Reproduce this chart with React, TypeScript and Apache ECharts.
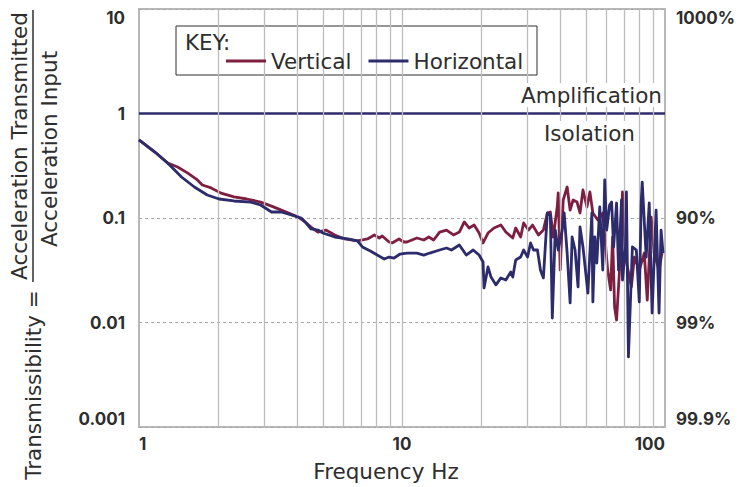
import React, { useEffect, useRef } from 'react';
import * as echarts from 'echarts';

// Vertical (maroon) transmissibility curve
const FREQ_V = [1.0, 1.149, 1.285, 1.402, 1.528, 1.652, 1.741, 1.881, 2.051, 2.296, 2.57, 2.9, 3.19, 3.478, 4.031, 4.281, 4.51, 4.79, 5.135, 5.55, 6.05, 6.77, 7.07, 7.39, 7.85, 8.19, 8.41, 8.93, 9.17, 9.74, 10.17, 10.44, 11.39, 12.1, 12.64, 13.19, 13.9, 14.76, 15.69, 16.52, 17.25, 18.01, 18.81, 19.64, 20.33, 21.23, 22.37, 23.77, 24.81, 26.37, 27.06, 28.26, 29.0, 30.28, 31.34, 33.03, 34.48, 35.7, 36.64, 37.6, 38.92, 39.26, 39.95, 41.01, 42.45, 43.57, 44.72, 46.29, 47.51, 48.76, 50.47, 51.8, 53.17, 55.52, 57.98, 60.53, 62.12, 63.21, 64.31, 65.43, 67.15, 68.91, 70.73, 74.5, 76.45, 79.83, 83.4, 85.6, 88.6, 90.9, 94.9, 97.4];
const VAL_V = [0.558, 0.428, 0.336, 0.308, 0.27, 0.236, 0.207, 0.194, 0.173, 0.159, 0.152, 0.142, 0.13, 0.119, 0.102, 0.0916, 0.082, 0.0734, 0.0767, 0.0688, 0.063, 0.0603, 0.0616, 0.063, 0.0688, 0.0644, 0.0673, 0.0589, 0.0577, 0.063, 0.0589, 0.0589, 0.0644, 0.0616, 0.0658, 0.0616, 0.0734, 0.0767, 0.0688, 0.0734, 0.0916, 0.0802, 0.0857, 0.0718, 0.0577, 0.0718, 0.0802, 0.0857, 0.0734, 0.0644, 0.0802, 0.0658, 0.0896, 0.0767, 0.0857, 0.0688, 0.0767, 0.1117, 0.1141, 0.0658, 0.1274, 0.1735, 0.0318, 0.1487, 0.198, 0.119, 0.1487, 0.142, 0.1117, 0.1853, 0.1274, 0.1774, 0.1117, 0.0957, 0.1117, 0.0318, 0.0205, 0.0658, 0.01407, 0.01057, 0.0318, 0.1774, 0.0423, 0.0219, 0.0423, 0.0318, 0.0462, 0.0164, 0.102, 0.0462, 0.0318, 0.0462];

// Horizontal (navy) transmissibility curve
const FREQ_H = [1.0, 1.149, 1.285, 1.451, 1.624, 1.817, 2.016, 2.296, 2.66, 2.9, 3.19, 3.478, 4.136, 4.318, 4.51, 4.79, 5.003, 5.55, 6.21, 6.77, 7.07, 7.58, 8.05, 8.56, 8.93, 9.33, 9.83, 10.44, 11.39, 12.1, 12.75, 13.9, 14.76, 15.42, 16.52, 17.55, 18.65, 19.64, 20.33, 20.51, 21.23, 21.8, 22.76, 23.77, 24.81, 25.91, 26.37, 27.06, 28.26, 29.0, 30.02, 30.81, 31.62, 32.73, 33.6, 34.48, 35.7, 36.64, 37.28, 38.26, 39.26, 40.64, 41.36, 42.45, 43.57, 44.34, 45.5, 46.7, 47.51, 48.76, 50.91, 52.71, 53.17, 54.09, 55.03, 56.48, 57.98, 58.98, 60.0, 61.57, 62.66, 63.76, 65.43, 66.57, 68.33, 68.91, 70.73, 71.33, 72.6, 75.16, 77.8, 79.83, 81.2, 81.9, 84.8, 87.1, 89.3, 92.5, 94.9, 96.6, 98.3];
const VAL_H = [0.558, 0.428, 0.336, 0.2468, 0.198, 0.166, 0.152, 0.1455, 0.142, 0.1332, 0.1141, 0.1141, 0.1, 0.0896, 0.0785, 0.0767, 0.0718, 0.0658, 0.063, 0.0603, 0.0528, 0.0483, 0.0442, 0.0405, 0.0423, 0.0414, 0.0452, 0.0462, 0.0462, 0.0442, 0.0462, 0.0494, 0.0516, 0.0494, 0.0552, 0.0442, 0.0494, 0.0442, 0.0379, 0.0214, 0.034, 0.0272, 0.0229, 0.0267, 0.0255, 0.0304, 0.0272, 0.0396, 0.0423, 0.0494, 0.0423, 0.0577, 0.0494, 0.0494, 0.0318, 0.0267, 0.1117, 0.1069, 0.01104, 0.0767, 0.0494, 0.0767, 0.1117, 0.0462, 0.01538, 0.0658, 0.0494, 0.0219, 0.082, 0.0528, 0.01916, 0.1117, 0.01572, 0.0658, 0.0371, 0.1274, 0.0318, 0.2311, 0.0767, 0.1332, 0.142, 0.0528, 0.1391, 0.0318, 0.1487, 0.0255, 0.0528, 0.1774, 0.00468, 0.0528, 0.0494, 0.01572, 0.142, 0.2209, 0.0423, 0.1391, 0.01233, 0.119, 0.01233, 0.0767, 0.0462];

const SERIES_NAMES = ['Vertical', 'Horizontal'];
const UNITY = 1;
const X_MIN = 1;
const X_MAX = 100;
const Y_MIN = 0.001;
const Y_MAX = 10;
const GRID_FREQS = [2, 3, 4, 5, 6, 7, 8, 9, 10, 20, 30, 40, 50, 60, 70, 80, 90];
const X_TICKS = [1, 10, 100];
const X_LABELS = ['1', '10', '100'];
const Y_TICKS = [0.001, 0.01, 0.1, 1, 10];
const LEFT_LABELS = ['0.001', '0.01', '0.1', '1', '10'];
const RIGHT_LABELS = ['99.9%', '99%', '90%', '', '1000%'];

const MAROON = '#7e1e40';
const NAVY = '#2c2b6b';
const TEXT = '#2e2e2e';
const NUM_FONT = 'Inter, "Noto Sans", sans-serif';
const FONT = '"DejaVu Sans", "Noto Sans", sans-serif';

function pick(v: number, ticks: number[], labels: string[]): string {
  const i = ticks.findIndex((t) => Math.abs(Math.log10(t) - Math.log10(v)) < 1e-6);
  return i >= 0 ? labels[i] : '';
}

function zip(xs: number[], ys: number[]): number[][] {
  return xs.map((x, i) => [x, ys[i]]);
}

export default function App() {
  const ref = useRef<HTMLDivElement>(null);

  useEffect(() => {
    if (!ref.current) return;
    const chart = echarts.init(ref.current, null, { renderer: 'svg' });
    const labelStyle = {
      color: TEXT,
      fontFamily: NUM_FONT,
      fontWeight: 'bold' as const,
      fontSize: 17,
    };
    const txt = (size: number) => `${size}px ${FONT}`;
    chart.setOption({
      animation: false,
      grid: {
        left: 139,
        right: 69,
        top: 9,
        bottom: 60,
        show: true,
        borderColor: '#b8b8b8',
        borderWidth: 2,
      },
      legend: {
        data: SERIES_NAMES,
        left: 226,
        top: 50,
        padding: 0,
        icon: 'rect',
        itemWidth: 40,
        itemHeight: 3,
        itemGap: 17,
        textStyle: { color: TEXT, fontFamily: FONT, fontSize: 21.5 },
        z: 10,
      },
      xAxis: {
        type: 'log',
        logBase: 10,
        min: X_MIN,
        max: X_MAX,
        axisLine: { show: false },
        axisTick: { show: false },
        splitLine: { show: false },
        axisLabel: {
          ...labelStyle,
          margin: 8,
          formatter: (v: number) => pick(v, X_TICKS, X_LABELS),
          alignMinLabel: 'left',
          alignMaxLabel: 'right',
        },
      },
      yAxis: [
        {
          type: 'log',
          logBase: 10,
          min: Y_MIN,
          max: Y_MAX,
          position: 'left',
          axisLine: { show: false },
          axisTick: { show: false },
          splitLine: { show: true, lineStyle: { color: '#a8a8a8', width: 1, type: [3, 3] } },
          axisLabel: {
            ...labelStyle,
            margin: 14,
            formatter: (v: number) => pick(v, Y_TICKS, LEFT_LABELS),
            verticalAlignMinLabel: 'bottom',
            verticalAlignMaxLabel: 'top',
          },
        },
        {
          type: 'log',
          logBase: 10,
          min: Y_MIN,
          max: Y_MAX,
          position: 'right',
          axisLine: { show: false },
          axisTick: { show: false },
          splitLine: { show: false },
          axisLabel: {
            ...labelStyle,
            margin: 11,
            formatter: (v: number) => pick(v, Y_TICKS, RIGHT_LABELS),
            verticalAlignMinLabel: 'bottom',
            verticalAlignMaxLabel: 'top',
          },
        },
      ],
      series: [
        {
          name: 'gridlines',
          type: 'line',
          data: [],
          z: 1,
          silent: true,
          markLine: {
            silent: true,
            symbol: 'none',
            label: { show: false },
            lineStyle: { color: '#bdbdbd', width: 1.3, type: 'solid' },
            data: GRID_FREQS.map((f) => ({ xAxis: f })),
          },
        },
        {
          name: 'unity',
          type: 'line',
          data: [[X_MIN, UNITY], [X_MAX, UNITY]],
          symbol: 'none',
          silent: true,
          z: 3,
          lineStyle: { color: NAVY, width: 2.6 },
        },
        {
          name: SERIES_NAMES[0],
          type: 'line',
          data: zip(FREQ_V, VAL_V),
          symbol: 'none',
          z: 4,
          color: MAROON,
          lineStyle: { color: MAROON, width: 2.8, join: 'round' },
        },
        {
          name: SERIES_NAMES[1],
          type: 'line',
          data: zip(FREQ_H, VAL_H),
          symbol: 'none',
          z: 5,
          color: NAVY,
          lineStyle: { color: NAVY, width: 2.8, join: 'round' },
        },
      ],
      graphic: [
        {
          type: 'rect',
          z: 3,
          shape: { x: 176, y: 26, width: 361, height: 49 },
          style: { fill: '#fff', stroke: TEXT, lineWidth: 1 },
        },
        {
          type: 'text',
          z: 10,
          x: 185,
          y: 42,
          style: { text: 'KEY:', fill: TEXT, font: txt(21.5), align: 'left', verticalAlign: 'middle' },
        },
        {
          type: 'text',
          z: 10,
          x: 664,
          y: 95,
          style: {
            text: 'Amplification',
            fill: TEXT,
            font: txt(21.5),
            align: 'right',
            verticalAlign: 'middle',
            backgroundColor: '#fff',
            padding: [1, 2],
          },
        },
        {
          type: 'text',
          z: 10,
          x: 637,
          y: 133,
          style: {
            text: 'Isolation',
            fill: TEXT,
            font: txt(21.5),
            align: 'right',
            verticalAlign: 'middle',
            backgroundColor: '#fff',
            padding: [1, 2],
          },
        },
        {
          type: 'text',
          z: 10,
          x: 386,
          y: 471,
          style: { text: 'Frequency Hz', fill: TEXT, font: txt(21.5), align: 'center', verticalAlign: 'middle' },
        },
        {
          type: 'text',
          z: 10,
          x: 19,
          y: 146,
          rotation: Math.PI / 2,
          style: { text: 'Acceleration Transmitted', fill: TEXT, font: txt(21.5), align: 'center', verticalAlign: 'middle' },
        },
        {
          type: 'line',
          z: 10,
          shape: { x1: 33, y1: 10, x2: 33, y2: 282 },
          style: { stroke: TEXT, lineWidth: 1.5 },
        },
        {
          type: 'text',
          z: 10,
          x: 49,
          y: 149,
          rotation: Math.PI / 2,
          style: { text: 'Acceleration Input', fill: TEXT, font: txt(21.5), align: 'center', verticalAlign: 'middle' },
        },
        {
          type: 'text',
          z: 10,
          x: 33,
          y: 385,
          rotation: Math.PI / 2,
          style: { text: 'Transmissibility =', fill: TEXT, font: txt(21.5), align: 'center', verticalAlign: 'middle' },
        },
      ],
    });
    return () => chart.dispose();
  }, []);

  return (
    <div
      ref={ref}
      style={{ position: 'fixed', left: 0, top: 0, width: 738, height: 487, background: '#fff' }}
    />
  );
}
